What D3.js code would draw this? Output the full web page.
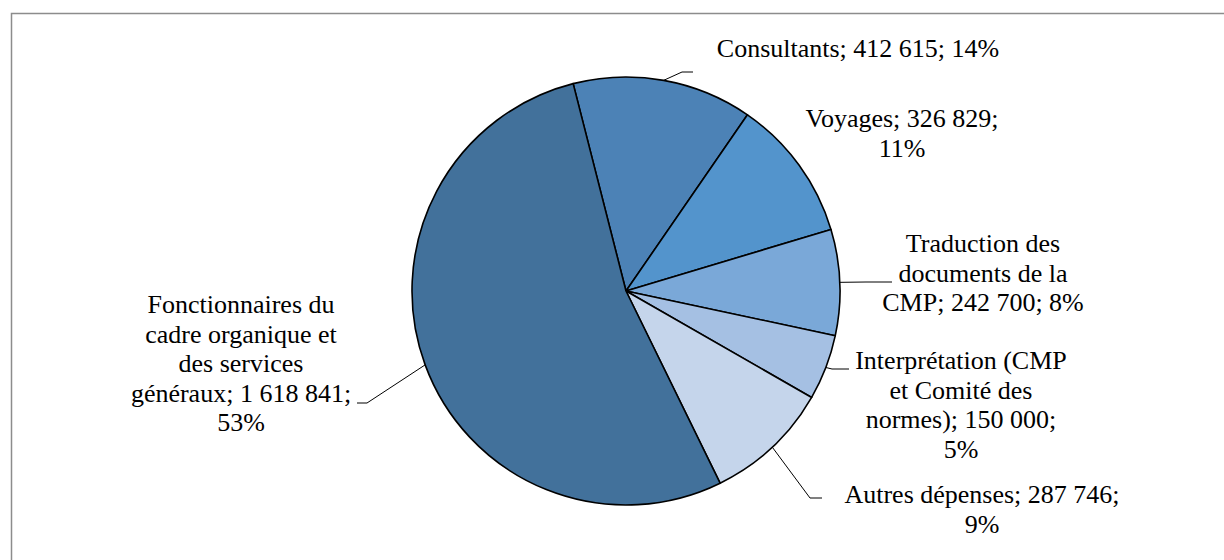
<!DOCTYPE html>
<html>
<head>
<meta charset="utf-8">
<script src="https://cdn.jsdelivr.net/npm/d3@7"></script>
<style>
  html, body { margin: 0; padding: 0; background: #fff; }
  svg { display: block; }
  .lbl { font-family: "Liberation Serif", Tinos, "Times New Roman", Times, "Nimbus Roman", "DejaVu Serif", serif; }
</style>
</head>
<body>
<svg id="chart" width="1224" height="560"></svg>
<script>
// ---- data ----
const categories = [
  "Consultants",
  "Voyages",
  "Traduction des documents de la CMP",
  "Interprétation (CMP et Comité des normes)",
  "Autres dépenses",
  "Fonctionnaires du cadre organique et des services généraux"
];
const values = [412615, 326829, 242700, 150000, 287746, 1618841];
const percentLabels = ["14%", "11%", "8%", "5%", "9%", "53%"];
// label text as wrapped in the reference
const labelLines = [
  ["Consultants; 412 615; 14%"],
  ["Voyages; 326 829;", "11%"],
  ["Traduction des", "documents de la", "CMP; 242 700; 8%"],
  ["Interprétation (CMP", "et Comité des", "normes); 150 000;", "5%"],
  ["Autres dépenses; 287 746;", "9%"],
  ["Fonctionnaires du", "cadre organique et", "des services", "généraux; 1 618 841;", "53%"]
];

// ---- styles / layout ----
const colors = ["#4C82B6", "#5394CC", "#7AA8D8", "#A5C0E3", "#C5D5EB", "#42719B"];
const cx = 626, cy = 291, radius = 214;
const startDeg = -14.3;
const fontSize = 26, lineH = 29.5;
// label anchor (center x, first baseline y) and leader elbow/end
const labelLayout = [
  { x: 858, y: 57,  leader: [[682, 72], [693, 72]] },
  { x: 902, y: 127, leader: null },
  { x: 983, y: 252, leader: [[866, 282], [892, 282]] },
  { x: 961, y: 369, leader: [[832, 369], [849, 369]] },
  { x: 982, y: 503, leader: [[810, 498], [822, 498]] },
  { x: 241, y: 313, leader: [[367, 403], [357, 403]] }
];

const svg = d3.select("#chart");

// outer chart border (extends beyond the right/bottom of the picture)
svg.append("rect")
  .attr("x", 11.5).attr("y", 13.5)
  .attr("width", 1300).attr("height", 700)
  .attr("fill", "none")
  .attr("stroke", "#8c8c8c")
  .attr("stroke-width", 1.5);

const data = categories.map((c, i) => ({ name: c, value: values[i], i }));

const pie = d3.pie()
  .value(d => d.value)
  .sort(null)
  .startAngle(startDeg * Math.PI / 180)
  .endAngle(startDeg * Math.PI / 180 + 2 * Math.PI);

const arcs = pie(data);
const arc = d3.arc().innerRadius(0).outerRadius(radius);

const g = svg.append("g").attr("transform", `translate(${cx},${cy})`);

g.selectAll("path.slice")
  .data(arcs)
  .join("path")
  .attr("class", "slice")
  .attr("d", arc)
  .attr("fill", d => colors[d.data.i])
  .attr("stroke", "#000")
  .attr("stroke-width", 1.6)
  .attr("stroke-linejoin", "round");

// leader lines: start on the arc edge at slice mid-angle
const leaders = svg.append("g");
arcs.forEach(a => {
  const lay = labelLayout[a.data.i];
  if (!lay.leader) return;
  const mid = (a.startAngle + a.endAngle) / 2;
  const sx = cx + radius * Math.sin(mid);
  const sy = cy - radius * Math.cos(mid);
  const pts = [[sx, sy]].concat(lay.leader);
  leaders.append("path")
    .attr("d", d3.line()(pts))
    .attr("fill", "none")
    .attr("stroke", "#000")
    .attr("stroke-width", 1);
});

// labels
const labels = svg.append("g")
  .attr("class", "lbl")
  .attr("font-size", fontSize)
  .attr("fill", "#000")
  .attr("text-anchor", "middle");

data.forEach(d => {
  const lay = labelLayout[d.i];
  const t = labels.append("text").attr("class", "lbl");
  labelLines[d.i].forEach((line, k) => {
    t.append("tspan")
      .attr("x", lay.x)
      .attr("y", lay.y + k * lineH)
      .text(line);
  });
});
</script>
</body>
</html>
